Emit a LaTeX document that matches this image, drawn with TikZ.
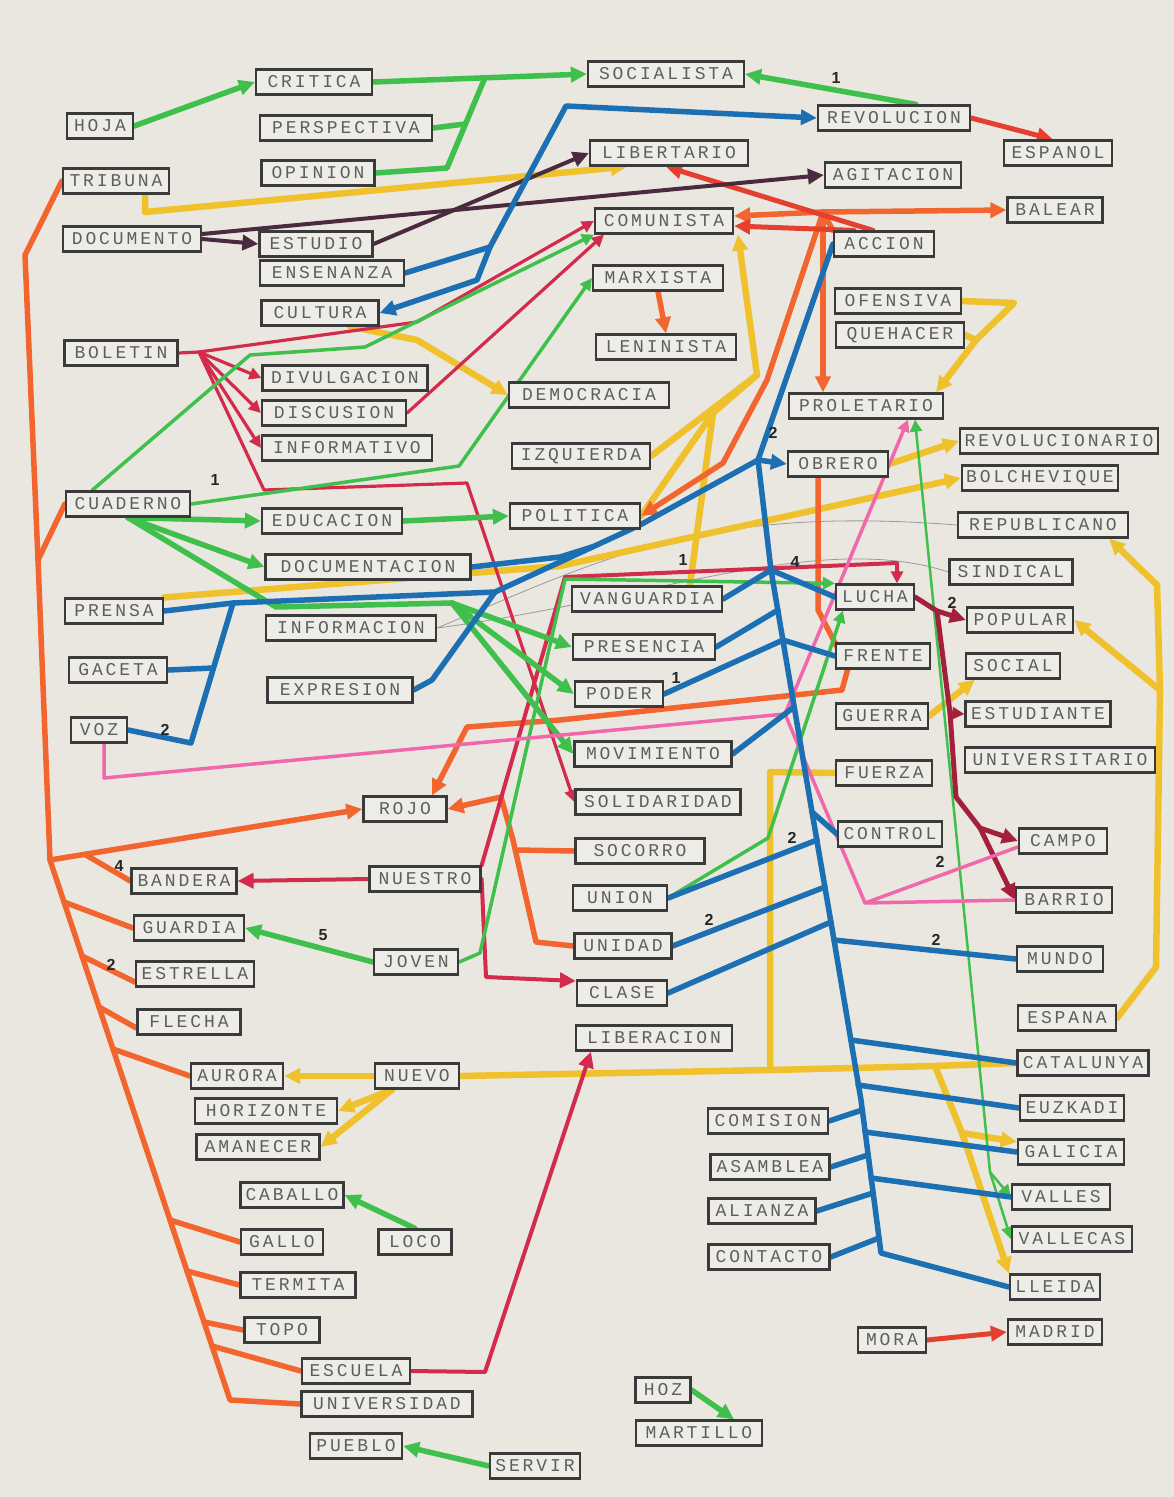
\documentclass[tikz,border=0pt]{standalone}
\usepackage{fontspec}
\newfontfamily\boxfont[LetterSpace=16]{Liberation Mono}
\newfontfamily\numfont{Liberation Sans}
\usetikzlibrary{arrows.meta}
\definecolor{paper}{HTML}{EAE7E0}
\definecolor{boxfill}{HTML}{EEECE6}
\definecolor{cgrn}{HTML}{3FBF4B}
\definecolor{cblu}{HTML}{1C6FB3}
\definecolor{cred}{HTML}{D22B4C}
\definecolor{corn}{HTML}{F2652F}
\definecolor{crorn}{HTML}{E5402F}
\definecolor{cyel}{HTML}{EFC12C}
\definecolor{cpur}{HTML}{4A2A3F}
\definecolor{cpink}{HTML}{F068AA}
\definecolor{cmar}{HTML}{A3203C}
\definecolor{cgry}{HTML}{9A9A9A}
\definecolor{txtc}{HTML}{5E5E5E}
\definecolor{edgec}{HTML}{3A3A3A}
\pgfdeclarelayer{paperlayer}
\pgfdeclarelayer{linelayer}
\pgfsetlayers{paperlayer,linelayer,main}
\tikzset{
  bx/.style={draw=edgec, line width=2.2pt, fill=boxfill, minimum height=25pt, inner xsep=2pt, inner ysep=0pt, font=\boxfont\fontsize{18pt}{18pt}\selectfont, text=txtc},
  lnw/.style={line cap=round, line join=round},
  lgreen/.style={lnw, draw=cgrn, line width=5.5pt},
  lgreent/.style={lnw, draw=cgrn, line width=3.5pt},
  lgreenh/.style={lnw, draw=cgrn, line width=2.5pt},
  lblue/.style={lnw, draw=cblu, line width=5.5pt},
  lyel/.style={lnw, draw=cyel, line width=6.5pt},
  lorn/.style={lnw, draw=corn, line width=5.5pt},
  lrorn/.style={lnw, draw=crorn, line width=5pt},
  lred/.style={lnw, draw=cred, line width=4pt},
  lredt/.style={lnw, draw=cred, line width=3.2pt},
  lmar/.style={lnw, draw=cmar, line width=5pt},
  lpink/.style={lnw, draw=cpink, line width=3.5pt},
  lpur/.style={lnw, draw=cpur, line width=4pt},
  lgrey/.style={lnw, draw=cgry, line width=0.8pt},
  arw/.style={-{Triangle[length=16pt,width=15pt]}},
  arws/.style={-{Triangle[length=12pt,width=12pt]}},
  numlab/.style={font=\numfont\bfseries\fontsize{16pt}{16pt}\selectfont, text=black!85, inner sep=0pt}
}
\begin{document}
\begin{tikzpicture}[x=1pt,y=-1pt]
\begin{pgfonlayer}{paperlayer}
\fill[paper] (0,0) rectangle (1174,1497);
\end{pgfonlayer}
\useasboundingbox (0,0) rectangle (1174,1497);

% ---------- nodes ----------
\node[bx,minimum width=66pt] (hoja) at (100,126) {HOJA};
\node[bx,minimum width=116pt] (critica) at (314,82) {CRITICA};
\node[bx,minimum width=172pt] (perspectiva) at (346,128) {PERSPECTIVA};
\node[bx,minimum width=113pt] (opinion) at (318,173) {OPINION};
\node[bx,minimum width=156pt] (socialista) at (666,74) {SOCIALISTA};
\node[bx,minimum width=152pt] (revolucion) at (894,118) {REVOLUCION};
\node[bx,minimum width=108pt] (espanol) at (1058,153) {ESPANOL};
\node[bx,minimum width=106pt] (tribuna) at (116,181) {TRIBUNA};
\node[bx,minimum width=158pt] (libertario) at (669,153) {LIBERTARIO};
\node[bx,minimum width=136pt] (agitacion) at (893,175) {AGITACION};
\node[bx,minimum width=138pt] (documento) at (132,239) {DOCUMENTO};
\node[bx,minimum width=113pt] (estudio) at (316,244) {ESTUDIO};
\node[bx,minimum width=138pt] (comunista) at (664,221) {COMUNISTA};
\node[bx,minimum width=95pt] (balear) at (1055,210) {BALEAR};
\node[bx,minimum width=100pt] (accion) at (884,244) {ACCION};
\node[bx,minimum width=144pt] (ensenanza) at (332,273) {ENSENANZA};
\node[bx,minimum width=117pt] (cultura) at (320,313) {CULTURA};
\node[bx,minimum width=130pt] (marxista) at (658,278) {MARXISTA};
\node[bx,minimum width=126pt] (ofensiva) at (898,301) {OFENSIVA};
\node[bx,minimum width=128pt] (quehacer) at (900,335) {QUEHACER};
\node[bx,minimum width=140pt] (leninista) at (666,347) {LENINISTA};
\node[bx,minimum width=113pt] (boletin) at (121,353) {BOLETIN};
\node[bx,minimum width=165pt] (divulgacion) at (345,378) {DIVULGACION};
\node[bx,minimum width=160pt] (democracia) at (589,395) {DEMOCRACIA};
\node[bx,minimum width=154pt] (proletario) at (866,406) {PROLETARIO};
\node[bx,minimum width=144pt] (discusion) at (334,413) {DISCUSION};
\node[bx,minimum width=170pt] (informativo) at (347,448) {INFORMATIVO};
\node[bx,minimum width=138pt] (izquierda) at (581,456) {IZQUIERDA};
\node[bx,minimum width=198pt] (revolucionario) at (1059,441) {REVOLUCIONARIO};
\node[bx,minimum width=100pt] (obrero) at (838,464) {OBRERO};
\node[bx,minimum width=156pt] (bolchevique) at (1040,478) {BOLCHEVIQUE};
\node[bx,minimum width=124pt] (cuaderno) at (128,504) {CUADERNO};
\node[bx,minimum width=140pt] (educacion) at (332,521) {EDUCACION};
\node[bx,minimum width=130pt] (politica) at (575,516) {POLITICA};
\node[bx,minimum width=170pt] (republicano) at (1043,525) {REPUBLICANO};
\node[bx,minimum width=205pt] (documentacion) at (368,567) {DOCUMENTACION};
\node[bx,minimum width=123pt] (sindical) at (1011,572) {SINDICAL};
\node[bx,minimum width=98pt] (prensa) at (114,611) {PRENSA};
\node[bx,minimum width=150pt] (vanguardia) at (647,599) {VANGUARDIA};
\node[bx,minimum width=78pt] (lucha) at (875,597) {LUCHA};
\node[bx,minimum width=106pt] (popular) at (1020,620) {POPULAR};
\node[bx,minimum width=170pt] (informacion) at (351,628) {INFORMACION};
\node[bx,minimum width=142pt] (presencia) at (644,647) {PRESENCIA};
\node[bx,minimum width=94pt] (frente) at (883,656) {FRENTE};
\node[bx,minimum width=94pt] (social) at (1013,666) {SOCIAL};
\node[bx,minimum width=98pt] (gaceta) at (118,670) {GACETA};
\node[bx,minimum width=145pt] (expresion) at (340,690) {EXPRESION};
\node[bx,minimum width=88pt] (poder) at (619,694) {PODER};
\node[bx,minimum width=92pt] (guerra) at (882,716) {GUERRA};
\node[bx,minimum width=145pt] (estudiante) at (1038,714) {ESTUDIANTE};
\node[bx,minimum width=56pt] (voz) at (99,730) {VOZ};
\node[bx,minimum width=157pt] (movimiento) at (653,754) {MOVIMIENTO};
\node[bx,minimum width=96pt] (fuerza) at (884,773) {FUERZA};
\node[bx,minimum width=190pt] (universitario) at (1060,760) {UNIVERSITARIO};
\node[bx,minimum width=83pt] (rojo) at (405,809) {ROJO};
\node[bx,minimum width=165pt] (solidaridad) at (658,802) {SOLIDARIDAD};
\node[bx,minimum width=104pt] (control) at (890,834) {CONTROL};
\node[bx,minimum width=88pt] (campo) at (1063,841) {CAMPO};
\node[bx,minimum width=129pt] (socorro) at (640,851) {SOCORRO};
\node[bx,minimum width=105pt] (bandera) at (184,881) {BANDERA};
\node[bx,minimum width=111pt] (nuestro) at (425,879) {NUESTRO};
\node[bx,minimum width=96pt] (barrio) at (1064,900) {BARRIO};
\node[bx,minimum width=94pt] (union) at (620,898) {UNION};
\node[bx,minimum width=110pt] (guardia) at (189,928) {GUARDIA};
\node[bx,minimum width=84pt] (joven) at (416,962) {JOVEN};
\node[bx,minimum width=97pt] (unidad) at (623,946) {UNIDAD};
\node[bx,minimum width=86pt] (mundo) at (1060,959) {MUNDO};
\node[bx,minimum width=118pt] (estrella) at (195,974) {ESTRELLA};
\node[bx,minimum width=90pt] (clase) at (622,993) {CLASE};
\node[bx,minimum width=103pt] (flecha) at (189,1022) {FLECHA};
\node[bx,minimum width=98pt] (espana) at (1067,1018) {ESPANA};
\node[bx,minimum width=156pt] (liberacion) at (654,1038) {LIBERACION};
\node[bx,minimum width=131pt] (catalunya) at (1083,1063) {CATALUNYA};
\node[bx,minimum width=92pt] (aurora) at (237,1076) {AURORA};
\node[bx,minimum width=84pt] (nuevo) at (417,1076) {NUEVO};
\node[bx,minimum width=142pt] (horizonte) at (266,1111) {HORIZONTE};
\node[bx,minimum width=104pt] (euzkadi) at (1072,1108) {EUZKADI};
\node[bx,minimum width=120pt] (comision) at (768,1121) {COMISION};
\node[bx,minimum width=123pt] (amanecer) at (258,1147) {AMANECER};
\node[bx,minimum width=106pt] (galicia) at (1071,1152) {GALICIA};
\node[bx,minimum width=119pt] (asamblea) at (770,1167) {ASAMBLEA};
\node[bx,minimum width=98pt] (valles) at (1061,1197) {VALLES};
\node[bx,minimum width=103pt] (caballo) at (292,1195) {CABALLO};
\node[bx,minimum width=107pt] (alianza) at (762,1211) {ALIANZA};
\node[bx,minimum width=82pt] (gallo) at (282,1242) {GALLO};
\node[bx,minimum width=73pt] (loco) at (415,1242) {LOCO};
\node[bx,minimum width=120pt] (vallecas) at (1072,1239) {VALLECAS};
\node[bx,minimum width=121pt] (contacto) at (769,1257) {CONTACTO};
\node[bx,minimum width=90pt] (lleida) at (1055,1287) {LLEIDA};
\node[bx,minimum width=115pt] (termita) at (298,1285) {TERMITA};
\node[bx,minimum width=75pt] (topo) at (282,1330) {TOPO};
\node[bx,minimum width=68pt] (mora) at (892,1340) {MORA};
\node[bx,minimum width=94pt] (madrid) at (1055,1332) {MADRID};
\node[bx,minimum width=108pt] (escuela) at (356,1371) {ESCUELA};
\node[bx,minimum width=55pt] (hoz) at (663,1390) {HOZ};
\node[bx,minimum width=171pt] (universidad) at (387,1404) {UNIVERSIDAD};
\node[bx,minimum width=126pt] (martillo) at (699,1433) {MARTILLO};
\node[bx,minimum width=92pt] (pueblo) at (356,1446) {PUEBLO};
\node[bx,minimum width=90pt] (servir) at (535,1466) {SERVIR};

% ---------- junction coordinates ----------
\coordinate (gj1) at (484,80); \coordinate (gj2) at (447,168); \coordinate (gj3) at (465,124);
\coordinate (gf) at (452,603); \coordinate (gv) at (990,1172);
\coordinate (be) at (490,247);
\coordinate (t1) at (758,460); \coordinate (t2) at (771,570); \coordinate (t3) at (812,812);
\coordinate (t4) at (834,940); \coordinate (t5) at (861,1100); \coordinate (t6) at (881,1253);
\coordinate (tpr) at (778,610); \coordinate (tpo) at (783,640); \coordinate (tmo) at (794,707);
\coordinate (tun) at (817,840); \coordinate (tud) at (825,887); \coordinate (tcl) at (831,922);
\coordinate (tca) at (851,1040); \coordinate (teu) at (858,1085); \coordinate (tco) at (862,1110);
\coordinate (tga) at (865,1132); \coordinate (tas) at (868,1155); \coordinate (tva) at (871,1178);
\coordinate (tal) at (873,1193); \coordinate (tct) at (879,1238);
\coordinate (bp1) at (233,603); \coordinate (bp2) at (495,592); \coordinate (bp3) at (640,525);
\coordinate (yo) at (976,340); \coordinate (yc1) at (757,375); \coordinate (yc2) at (713,413);
\coordinate (ye) at (1160,690);
\coordinate (yn1) at (770,1070); \coordinate (yn2) at (935,1066); \coordinate (yn3) at (962,1133);
\coordinate (o1) at (25,255); \coordinate (o2) at (38,560); \coordinate (o3) at (50,860); \coordinate (o4) at (230,1400);
\coordinate (ob) at (86,855); \coordinate (ogu) at (64,902); \coordinate (oes) at (82,956);
\coordinate (ofl) at (99,1007); \coordinate (oau) at (113,1049); \coordinate (oga) at (170,1220);
\coordinate (ote) at (187,1271); \coordinate (oto) at (204,1322); \coordinate (oec) at (212,1346);
\coordinate (oa) at (823,212);
\coordinate (or1) at (501,797); \coordinate (or2) at (513,840); \coordinate (or3) at (516,850);
\coordinate (r1) at (199,352);
\coordinate (m1) at (937,611); \coordinate (m2) at (950,713); \coordinate (m3) at (980,828);
\coordinate (p1) at (104,778); \coordinate (p2) at (785,714); \coordinate (p3) at (865,903);

\begin{pgfonlayer}{linelayer}
% ---- grey pencil ----
\draw[lgrey] (informacion.east) .. controls (600,560) and (700,505) .. (republicano.west);
\draw[lgrey] (informacion.east) .. controls (650,600) and (820,530) .. (sindical.west);
% ---- yellow ----
\draw[lyel,arw] ([xshift=29pt]tribuna.south) -- (145,212) -- ([xshift=-42pt]libertario.south);
\draw[lyel,arw] ([xshift=30pt]cultura.south) -- (417,340) -- (democracia.west);
\draw[lyel,arw] (ofensiva.east) -- (1014,303) -- (yo) -- ([xshift=-8pt]proletario.north east);
\draw[lyel] (quehacer.east) -- (yo);
\draw[lyel,arw] ([xshift=43pt]vanguardia.north) -- (yc2) -- (yc1) -- ([xshift=74pt]comunista.south);
\draw[lyel] (izquierda.east) -- (yc1);
\draw[lyel] (politica.east) -- (yc2);
\draw[lyel,arw] (prensa.north east) -- (560,566) -- (bolchevique.west);
\draw[lyel,arw] (obrero.east) -- (revolucionario.west);
\draw[lyel] (espana.east) -- (1156,967) -- (ye);
\draw[lyel,arw] (ye) -- (popular.east);
\draw[lyel,arw] (ye) -- (1157,585) -- ([xshift=-20pt]republicano.south east);
\draw[lyel,arw] (guerra.east) -- ([xshift=10pt]social.south west);
\draw[lyel,arw] (nuevo.west) -- (aurora.east);
\draw[lyel,arw] ([xshift=-25pt]nuevo.south) -- (horizonte.east);
\draw[lyel,arw] ([xshift=-25pt]nuevo.south) -- (amanecer.east);
\draw[lyel] (nuevo.east) -- (yn1) -- (yn2) -- (catalunya.west);
\draw[lyel] (yn1) -- (770,772) -- (fuerza.west);
\draw[lyel,arw] (yn2) -- (yn3) -- ([yshift=10pt]galicia.west);
\draw[lyel,arw] (yn3) -- (lleida.north west);
% ---- orange ----
\draw[lorn] (tribuna.west) -- (o1) -- (o2) -- (o3) -- (o4) -- (universidad.west);
\draw[lorn] (o2) -- (cuaderno.west);
\draw[lorn,arw] (o3) -- (rojo.west);
\draw[lorn] (ob) -- (bandera.west);
\draw[lorn] (ogu) -- (guardia.west);
\draw[lorn] (oes) -- ([yshift=-8pt]estrella.west);
\draw[lorn] (ofl) -- ([yshift=-6pt]flecha.west);
\draw[lorn] (oau) -- (aurora.west);
\draw[lorn] (oga) -- (gallo.west);
\draw[lorn] (ote) -- (termita.west);
\draw[lorn] (oto) -- (topo.west);
\draw[lorn] (oec) -- (escuela.west);
\draw[lorn,arw] (marxista.south) -- (leninista.north);
\draw[lorn] (accion.north west) -- (oa);
\draw[lorn,arw] (oa) -- (balear.west);
\draw[lorn,arw] (oa) -- ([yshift=5pt]comunista.east);
\draw[lorn,arw] (oa) -- ([xshift=-43pt]proletario.north);
\draw[lorn,arw] (oa) -- (767,380) -- (723,463) -- (politica.east);
\draw[lorn,arw] ([xshift=-20pt]obrero.south) -- (818,610) -- (848,668) -- (842,690) -- (560,720) -- (467,727) -- ([xshift=27pt]rojo.north);
\draw[lorn,arw] (unidad.west) -- (536,942) -- (or2) -- (or1) -- (rojo.east);
\draw[lorn] (socorro.west) -- (or3);
\draw[lrorn,arw] (revolucion.east) -- ([xshift=-5pt]espanol.north);
\draw[lrorn,arw] (mora.east) -- (madrid.west);
\draw[lrorn,arw] ([xshift=-11pt]accion.north) -- ([xshift=-3pt]libertario.south);
\draw[lrorn,arw] ([xshift=-30pt]accion.north) -- ([yshift=-5pt]comunista.east);
% ---- purple ----
\draw[lpur,arw] (documento.east) -- (estudio.west);
\draw[lpur,arw] ([yshift=5pt]documento.east) -- (agitacion.west);
\draw[lpur,arw] (estudio.east) -- (libertario.west);
% ---- red ----
\draw[lredt] (boletin.east) -- (r1);
\draw[lredt,arws] (r1) -- (divulgacion.west);
\draw[lredt,arws] (r1) -- (discusion.west);
\draw[lredt,arws] (r1) -- (informativo.west);
\draw[lredt,arws] (r1) -- (264,490) -- (467,483) -- (solidaridad.west);
\draw[lredt,arws] (r1) -- (417,322) -- (comunista.west);
\draw[lredt,arws] (discusion.east) -- ([xshift=-60pt]comunista.south);
\draw[lred,arw] (nuestro.west) -- (bandera.east);
\draw[lred,arw] (nuestro.east) -- (486,977) -- ([yshift=12pt]clase.west);
\draw[lred,arws] (nuestro.north east) -- (565,577) -- (897,563) -- ([xshift=22pt]lucha.north);
\draw[lred,arw] (escuela.east) -- (485,1372) -- ([xshift=-63pt]liberacion.south);
% ---- green ----
\draw[lgreen,arw] (hoja.east) -- (critica.west);
\draw[lgreen,arw] (critica.east) -- (socialista.west);
\draw[lgreen] (opinion.east) -- (gj2) -- (gj1);
\draw[lgreen] (perspectiva.east) -- (gj3);
\draw[lgreen,arw] ([xshift=22pt]revolucion.north) -- (socialista.east);
\draw[lgreent,arws] ([xshift=-36pt]cuaderno.north) -- (250,355) -- (365,347) -- (comunista.south west);
\draw[lgreent,arws] (cuaderno.east) -- (459,466) -- (marxista.west);
\draw[lgreen,arw] (cuaderno.south) -- (educacion.west);
\draw[lgreen,arw] (cuaderno.south) -- (documentacion.west);
\draw[lgreen] (cuaderno.south) -- (276,607) -- (gf);
\draw[lgreen,arw] (gf) -- (presencia.west);
\draw[lgreen,arw] (gf) -- (poder.west);
\draw[lgreen,arw] (gf) -- (movimiento.west);
\draw[lgreen,arw] (educacion.east) -- (politica.west);
\draw[lgreen,arw] (joven.west) -- (guardia.east);
\draw[lgreent,arws] (joven.east) -- (480,953) -- (565,579) -- (lucha.north west);
\draw[lgreent,arws] (union.east) -- (768,838) -- ([xshift=8pt]lucha.south west);
\draw[lgreenh,arws] (gv) -- ([xshift=49pt]proletario.south);
\draw[lgreenh,arws] (gv) -- (valles.west);
\draw[lgreenh,arws] (gv) -- (vallecas.west);
\draw[lgreen,arw] (loco.north) -- (caballo.east);
\draw[lgreen,arw] (servir.west) -- (pueblo.east);
\draw[lgreen,arw] (hoz.east) -- ([xshift=35pt]martillo.north);
% ---- maroon ----
\draw[lmar] (lucha.east) -- (m1);
\draw[lmar,arw] (m1) -- (popular.west);
\draw[lmar,arws] (m2) -- (estudiante.west);
\draw[lmar,arw] (m1) -- (m2) -- (956,797) -- (m3) -- (campo.west);
\draw[lmar,arw] (m3) -- (barrio.west);
% ---- pink ----
\draw[lpink,arws] ([xshift=5pt]voz.south) -- (p1) -- (p2) -- ([xshift=42pt]proletario.south);
\draw[lpink] (p2) -- (p3) -- ([yshift=-6pt]campo.west);
\draw[lpink] (p3) -- (barrio.west);
% ---- blue ----
\draw[lblue] (ensenanza.east) -- (be);
\draw[lblue,arw] (be) -- (566,106) -- (revolucion.west);
\draw[lblue,arw] (be) -- (477,280) -- (cultura.east);
\draw[lblue] (accion.west) -- (t1) -- (t2) -- (t3) -- (t4) -- (t5) -- (t6) -- (lleida.west);
\draw[lblue,arw] (t1) -- (obrero.west);
\draw[lblue] (vanguardia.east) -- (t2) -- (lucha.west);
\draw[lblue] (presencia.east) -- (tpr);
\draw[lblue] (poder.east) -- (tpo) -- (frente.west);
\draw[lblue] (movimiento.east) -- (tmo);
\draw[lblue] (t3) -- (control.west);
\draw[lblue] (union.east) -- (tun);
\draw[lblue] (unidad.east) -- (tud);
\draw[lblue] (clase.east) -- (tcl);
\draw[lblue] (t4) -- (mundo.west);
\draw[lblue] (tca) -- (catalunya.west);
\draw[lblue] (teu) -- (euzkadi.west);
\draw[lblue] (comision.east) -- (tco);
\draw[lblue] (tga) -- (galicia.west);
\draw[lblue] (asamblea.east) -- (tas);
\draw[lblue] (tva) -- (valles.west);
\draw[lblue] (alianza.east) -- (tal);
\draw[lblue] (contacto.east) -- (tct);
\draw[lblue] (prensa.east) -- (bp1) -- (bp2) -- (bp3) -- (t1);
\draw[lblue] (voz.east) -- (191,743) -- (bp1);
\draw[lblue] (gaceta.east) -- (213,668);
\draw[lblue] (documentacion.east) -- (560,557) -- (592,547);
\draw[lblue] (expresion.east) -- (432,680) -- (bp2);
\end{pgfonlayer}

% ---------- number labels ----------
\node[numlab] (n1) at (836,78) {1};
\node[numlab] (n2) at (215,480) {1};
\node[numlab] (n3) at (165,730) {2};
\node[numlab] (n4) at (773,433) {2};
\node[numlab] (n5) at (795,562) {4};
\node[numlab] (n6) at (683,560) {1};
\node[numlab] (n7) at (676,678) {1};
\node[numlab] (n8) at (952,603) {2};
\node[numlab] (n9) at (792,838) {2};
\node[numlab] (n10) at (940,862) {2};
\node[numlab] (n11) at (709,920) {2};
\node[numlab] (n12) at (936,940) {2};
\node[numlab] (n13) at (119,866) {4};
\node[numlab] (n14) at (323,935) {5};
\node[numlab] (n15) at (111,965) {2};
\end{tikzpicture}
\end{document}
